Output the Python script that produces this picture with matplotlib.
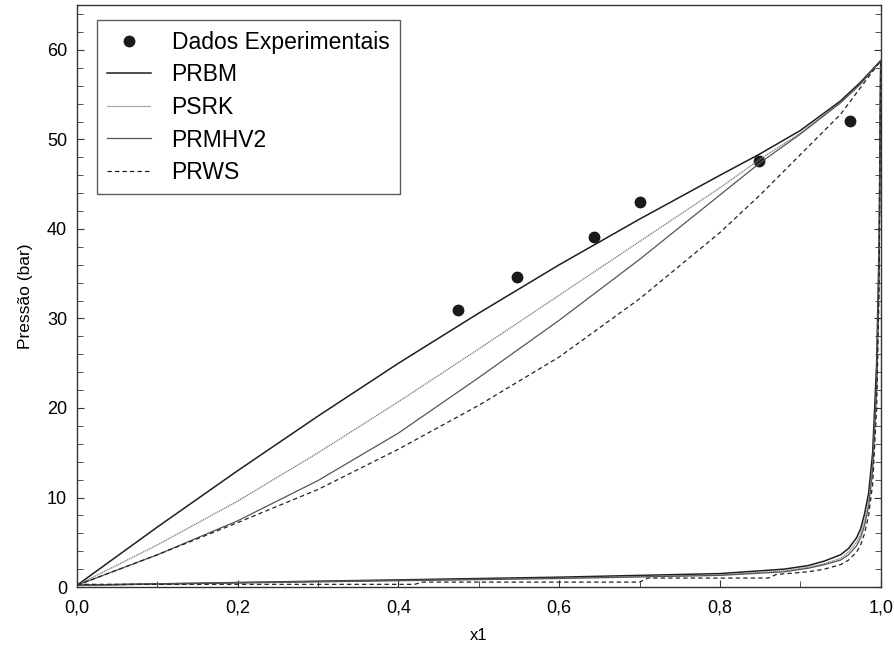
import matplotlib
matplotlib.use('Agg')
import matplotlib.pyplot as plt
from matplotlib.ticker import MultipleLocator, FuncFormatter

plt.rcParams['font.family'] = ['Liberation Sans', 'DejaVu Sans']

# dados experimentais (x1, P em bar)
x_exp = [0.474, 0.547, 0.643, 0.700, 0.849, 0.962]
p_exp = [31.0, 34.6, 39.1, 43.0, 47.6, 52.1]

# curvas de bolha
x_bol = [0.0, 0.1, 0.2, 0.3, 0.4, 0.5, 0.6, 0.7, 0.8, 0.85, 0.9, 0.95, 0.975, 1.0]
p_prbm_bol = [0.2, 6.7, 13.0, 19.1, 25.0, 30.6, 36.0, 41.1, 46.0, 48.4, 51.0, 54.3, 56.4, 58.8]
p_psrk_bol = [0.2, 4.7, 9.6, 15.0, 20.7, 26.6, 32.6, 38.6, 44.6, 47.8, 50.7, 54.1, 56.2, 58.8]
p_prmhv2_bol = [0.2, 3.6, 7.4, 11.9, 17.2, 23.4, 29.8, 36.6, 43.8, 47.4, 50.6, 54.1, 56.2, 58.8]
p_prws_bol = [0.2, 3.6, 7.2, 10.9, 15.4, 20.3, 25.7, 32.2, 39.6, 43.8, 48.3, 52.8, 55.8, 58.8]

# curvas de orvalho
x_orv = [0.0, 0.2, 0.4, 0.6, 0.8, 0.88, 0.91, 0.93, 0.95, 0.96, 0.97, 0.975, 0.98, 0.985, 0.99, 0.995, 0.998, 1.0]
p_prbm_orv = [0.2, 0.5, 0.8, 1.1, 1.5, 2.0, 2.4, 2.9, 3.6, 4.3, 5.5, 6.5, 8.2, 10.5, 15.0, 25.0, 38.0, 58.8]
p_psrk_orv = [0.2, 0.5, 0.75, 1.0, 1.35, 1.8, 2.2, 2.6, 3.2, 3.9, 5.0, 5.9, 7.4, 9.6, 13.8, 23.0, 36.0, 58.8]
p_prmhv2_orv = [0.2, 0.45, 0.7, 0.95, 1.3, 1.7, 2.1, 2.5, 3.0, 3.6, 4.6, 5.5, 6.9, 9.0, 13.0, 22.0, 35.0, 58.8]
x_prws_orv = [0.0, 0.42, 0.43, 0.70, 0.71, 0.86, 0.87, 0.91, 0.93, 0.95, 0.96, 0.97, 0.975, 0.98, 0.985,
              0.99, 0.995, 0.998, 1.0]
p_prws_orv = [0.3, 0.3, 0.55, 0.55, 1.0, 1.0, 1.4, 1.7, 2.0, 2.5, 3.0, 3.9, 4.7, 6.0, 8.0,
              11.5, 20.0, 33.0, 58.8]

fig = plt.figure(figsize=(8.95, 6.49), dpi=100)
ax = fig.add_axes([0.086, 0.0955, 0.898, 0.8965])

estilo_prbm = dict(color='#1e1e1e', lw=1.1, ls='-')
estilo_psrk = dict(color='#777777', lw=0.9, ls=(0, (1, 0.6)))
estilo_prmhv2 = dict(color='#555555', lw=0.9, ls='-')
estilo_prws = dict(color='#222222', lw=0.9, ls=(0, (3.5, 2.5)))

ax.plot(x_exp, p_exp, 'o', color='#1a1a1a', ms=7.5, label='Dados Experimentais')
ax.plot(x_bol, p_prbm_bol, label='PRBM', **estilo_prbm)
ax.plot(x_bol, p_psrk_bol, label='PSRK', **estilo_psrk)
ax.plot(x_bol, p_prmhv2_bol, label='PRMHV2', **estilo_prmhv2)
ax.plot(x_bol, p_prws_bol, label='PRWS', **estilo_prws)
ax.plot(x_orv, p_prbm_orv, **estilo_prbm)
ax.plot(x_orv, p_psrk_orv, **estilo_psrk)
ax.plot(x_orv, p_prmhv2_orv, **estilo_prmhv2)
ax.plot(x_prws_orv, p_prws_orv, **estilo_prws)

ax.set_xlim(0, 1.0)
ax.set_ylim(0, 65)
ax.xaxis.set_major_locator(MultipleLocator(0.2))
ax.xaxis.set_minor_locator(MultipleLocator(0.1))
ax.yaxis.set_major_locator(MultipleLocator(10))
ax.yaxis.set_minor_locator(MultipleLocator(2))
ax.xaxis.set_major_formatter(FuncFormatter(lambda v, p: f'{v:.1f}'.replace('.', ',')))
ax.tick_params(which='both', direction='in', right=True, labelsize=13, color='#333333')
ax.tick_params(which='major', length=5)
ax.tick_params(which='minor', length=4)
ax.tick_params(axis='x', pad=9)
ax.tick_params(axis='y', pad=7)
for s in ax.spines.values():
    s.set_linewidth(1.0)
    s.set_color('#333333')

ax.set_xlabel('x1', fontsize=12, labelpad=8)
ax.set_ylabel('Pressão (bar)', fontsize=12.5, labelpad=10)

leg = ax.legend(loc='upper left', bbox_to_anchor=(0.025, 0.974), borderaxespad=0,
                fontsize=16.5, frameon=True, fancybox=False, edgecolor='#333333',
                labelspacing=0.42, handlelength=1.9, handletextpad=0.9, borderpad=0.45)
leg.get_frame().set_linewidth(1.0)

fig.savefig('out.png', dpi=100)
